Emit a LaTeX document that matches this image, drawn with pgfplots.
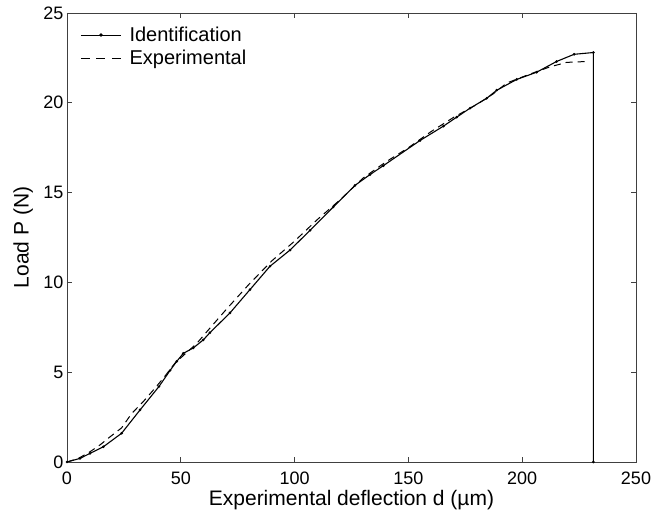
\documentclass[border=0pt]{standalone}
\usepackage{pgfplots}
\pgfplotsset{compat=1.18}
\usepackage{fontspec}
\setmainfont{Liberation Sans}
\begin{document}
\begin{tikzpicture}
\begin{axis}[
  name=ax,
  scale only axis,
  width=569pt, height=449pt,
  xmin=0, xmax=250, ymin=0, ymax=25,
  xtick={0,50,100,150,200,250},
  ytick={0,5,10,15,20,25},
  tick align=inside,
  major tick length=5pt,
  axis line style={draw=black!75, line width=0.9pt},
  every tick/.style={draw=black!75, line width=0.9pt},
  /pgf/number format/assume math mode=true,
  ticklabel style={font=\fontsize{18}{21}\selectfont},
  xticklabel style={yshift=-6pt},
  label style={font=\fontsize{21}{24}\selectfont},
  xlabel={Experimental deflection d (\textmu m)},
  ylabel={Load P (N)},
  xlabel style={at={(axis description cs:0.5,0)}, anchor=north, yshift=-25pt},
  ylabel style={at={(axis description cs:0,0.5)}, anchor=south, yshift=30.5pt},
  legend style={draw=none, fill=none, at={(0.018,0.978)}, anchor=north west,
    font=\fontsize{20}{22}\selectfont, row sep=3pt,
    /tikz/every odd column/.append style={column sep=6pt}},
  legend cell align=left,
]
\addplot[black, line width=1.1pt, mark=*, mark size=0.7pt,
  legend image code/.code={\draw[black, line width=1.1pt] (0pt,0pt) -- (40pt,0pt); \fill[black] (20pt,0pt) circle (1.1pt);}]
coordinates {
(0,0) (5.7,0.2) (10.1,0.48) (16,0.85) (24,1.6) (32.1,2.9) (40.4,4.2) (45.3,5.1)
(48.2,5.6) (51.1,6.05) (55.5,6.35) (59.9,6.8) (62.8,7.2) (71.6,8.3) (80.4,9.6)
(89.2,10.9) (98,11.8) (106.8,12.9) (117,14.2) (126.5,15.4) (133.1,16.0) (139,16.5)
(155.1,17.9) (165.4,18.7) (171.2,19.2) (177.1,19.7) (184.4,20.25) (188.8,20.7)
(197.6,21.3) (206.3,21.7) (215.1,22.3) (222.8,22.7) (231.3,22.8) (231.3,0)
};
\addlegendentry{Identification}
\addplot[black, line width=1.0pt, dash pattern=on 7pt off 5pt,
  legend image code/.code={\draw[black, line width=1.0pt, dash pattern=on 9pt off 6.5pt] (0pt,0pt) -- (40pt,0pt);}]
coordinates {
(0,0) (5,0.2) (10.1,0.57) (14.5,0.95) (18.9,1.4) (24,1.9) (28.4,2.7) (33.5,3.36)
(37.9,4.0) (42.3,4.66) (47.4,5.5) (57,6.6) (61.4,7.25) (70,8.5) (80,9.9) (90,11.2)
(100,12.3) (110,13.5) (120,14.6) (130,15.8) (140,16.7) (150,17.5) (160,18.4)
(170,19.2) (180,19.9) (187.3,20.5) (193.2,21.1) (203.4,21.6) (212.2,22.0)
(219.5,22.25) (228.3,22.3)
};
\addlegendentry{Experimental}
\end{axis}
\pgfresetboundingbox
\path ([xshift=-67pt,yshift=-57pt]ax.south west) rectangle ([xshift=17pt,yshift=13pt]ax.north east);
\end{tikzpicture}
\end{document}
